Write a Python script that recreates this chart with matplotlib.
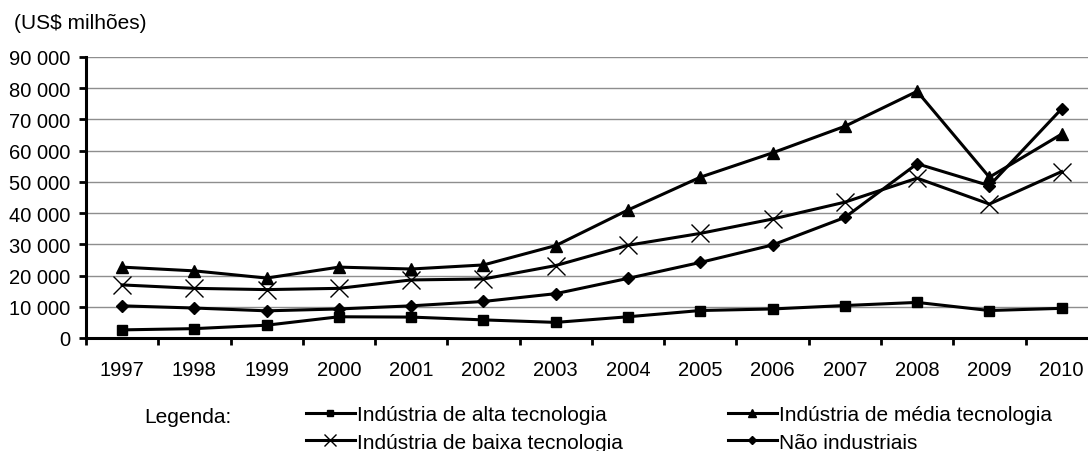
import matplotlib
matplotlib.use('Agg')
from matplotlib import pyplot as plt
from matplotlib.ticker import FuncFormatter, MultipleLocator
import numpy as np

plt.rcParams['font.family'] = ['Liberation Sans', 'DejaVu Sans']

years = ['1997', '1998', '1999', '2000', '2001', '2002', '2003',
         '2004', '2005', '2006', '2007', '2008', '2009', '2010']

# US$ millions
alta = [2600, 3000, 4100, 6800, 6700, 5800, 5000,
        6800, 8800, 9300, 10400, 11400, 8800, 9500]
media = [22700, 21500, 19200, 22700, 22100, 23400, 29600,
         41000, 51500, 59300, 67800, 79000, 51500, 65300]
baixa = [17000, 15900, 15500, 15900, 18600, 18900, 23200,
         29700, 33500, 38100, 43500, 51200, 42900, 53300]
nao_ind = [10300, 9600, 8700, 9300, 10300, 11700, 14200,
           19100, 24200, 29800, 38600, 55800, 48800, 73400]

labels = ['Indústria de alta tecnologia', 'Indústria de média tecnologia',
          'Indústria de baixa tecnologia', 'Não industriais']

fig = plt.figure(figsize=(10.88, 4.52), dpi=100)
ax = fig.add_axes([0.079, 0.25, 0.930, 0.6217])

x = np.arange(len(years))
lw = 2.2
h_alta, = ax.plot(x, alta, color='black', lw=lw, marker='s', ms=7)
h_media, = ax.plot(x, media, color='black', lw=lw, marker='^', ms=8)
h_baixa, = ax.plot(x, baixa, color='black', lw=lw, marker='x', ms=12.5,
                   mew=1.0)
h_nao, = ax.plot(x, nao_ind, color='black', lw=lw, marker='D', ms=6.5)

ax.set_xlim(-0.5, len(years) - 0.5)
ax.set_ylim(0, 90000)
ax.yaxis.set_major_locator(MultipleLocator(10000))
ax.yaxis.set_major_formatter(
    FuncFormatter(lambda v, p: f'{int(v):,}'.replace(',', ' ')))
ax.set_xticks(x)
ax.set_xticklabels(years)
ax.set_xticks(np.arange(-0.5, len(years), 1.0), minor=True)
ax.tick_params(axis='x', which='major', length=0, pad=16, labelsize=14.5)
ax.tick_params(axis='x', which='minor', length=5, width=2, direction='out')
ax.tick_params(axis='y', length=5, width=2, direction='out', pad=6,
               labelsize=14.5)

ax.grid(axis='y', color='#8e8e8e', lw=1)
ax.set_axisbelow(True)
for side in ('top', 'right'):
    ax.spines[side].set_visible(False)
for side in ('left', 'bottom'):
    ax.spines[side].set_linewidth(2.2)

fig.text(0.013, 0.948, '(US$ milhões)', fontsize=15, va='center')
fig.text(0.133, 0.0774, 'Legenda:', fontsize=15, va='center')

# two legend columns, placed separately
leg_kw = dict(loc='center left', frameon=False, fontsize=15,
              handlelength=2.35, handletextpad=0.1, labelspacing=0.42,
              borderpad=0, borderaxespad=0, markerscale=0.7)
fig.legend([h_alta, h_baixa], [labels[0], labels[2]],
           bbox_to_anchor=(0.281, 0.050), **leg_kw)
fig.legend([h_media, h_nao], [labels[1], labels[3]],
           bbox_to_anchor=(0.669, 0.050), **leg_kw)

fig.savefig('out.png', dpi=100)
